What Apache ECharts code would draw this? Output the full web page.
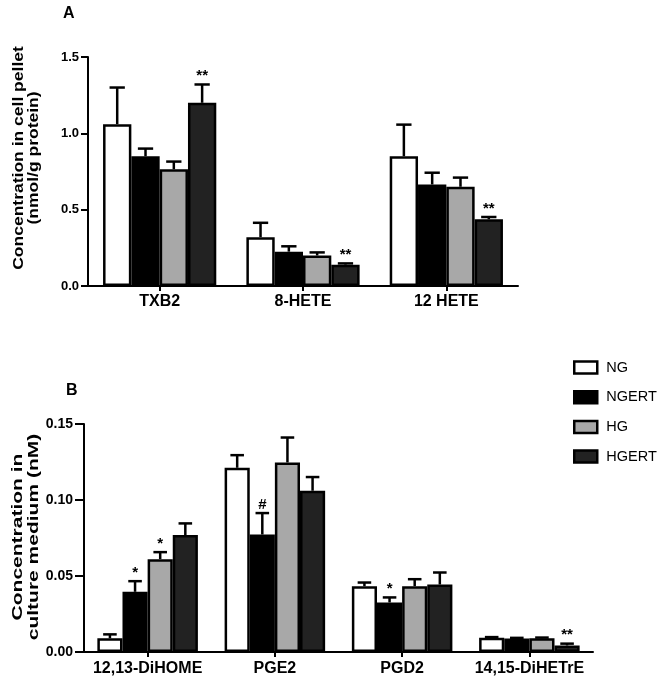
<!DOCTYPE html>
<html>
<head>
<meta charset="utf-8">
<script src="https://cdn.jsdelivr.net/npm/echarts@6/dist/echarts.min.js"></script>
<style>html,body{margin:0;padding:0;background:#fff}#c{width:664px;height:684px}</style>
</head>
<body>
<div id="c"></div>
<script>
// ---- data ----
var groups = ['NG', 'NGERT', 'HG', 'HGERT'];
var colors = ['#ffffff', '#000000', '#a8a8a8', '#222222'];

// Panel A: concentration in cell pellet (nmol/g protein)
var catsA = ['TXB2', '8-HETE', '12 HETE'];
var A_NG = [1.06, 0.32, 0.85];
var A_NGERT = [0.85, 0.225, 0.665];
var A_HG = [0.765, 0.2, 0.65];
var A_HGERT = [1.20, 0.14, 0.437];
var A_NG_sem = [0.24, 0.094, 0.207];
var A_NGERT_sem = [0.05, 0.035, 0.077];
var A_HG_sem = [0.05, 0.02, 0.06];
var A_HGERT_sem = [0.12, 0.008, 0.015];
var A_NG_sig = ['', '', ''];
var A_NGERT_sig = ['', '', ''];
var A_HG_sig = ['', '', ''];
var A_HGERT_sig = ['**', '**', '**'];
var ticksA = [0, 0.5, 1.0, 1.5];

// Panel B: concentration in culture medium (nM)
var catsB = ['12,13-DiHOME', 'PGE2', 'PGD2', '14,15-DiHETrE'];
var B_NG = [0.0090, 0.1212, 0.0433, 0.0093];
var B_NGERT = [0.0396, 0.0773, 0.0326, 0.0088];
var B_HG = [0.0611, 0.1247, 0.0433, 0.0090];
var B_HGERT = [0.0769, 0.1061, 0.0444, 0.0043];
var B_NG_sem = [0.0026, 0.0083, 0.0024, 0.0005];
var B_NGERT_sem = [0.0070, 0.0141, 0.0033, 0.0005];
var B_HG_sem = [0.0046, 0.0164, 0.0046, 0.0005];
var B_HGERT_sem = [0.0077, 0.0090, 0.0079, 0.0012];
var B_NG_sig = ['', '', '', ''];
var B_NGERT_sig = ['*', '#', '*', ''];
var B_HG_sig = ['*', '', '', ''];
var B_HGERT_sig = ['', '', '', '**'];
var ticksB = [0, 0.05, 0.10, 0.15];

// ---- build ----
var FONT = '"Liberation Sans", Arial, sans-serif';
var CAT_GAP = 0.21;
var BW = 2.5;

var panelA = {
  means: [A_NG, A_NGERT, A_HG, A_HGERT],
  sems: [A_NG_sem, A_NGERT_sem, A_HG_sem, A_HGERT_sem],
  sigs: [A_NG_sig, A_NGERT_sig, A_HG_sig, A_HGERT_sig]
};
var panelB = {
  means: [B_NG, B_NGERT, B_HG, B_HGERT],
  sems: [B_NG_sem, B_NGERT_sem, B_HG_sem, B_HGERT_sem],
  sigs: [B_NG_sig, B_NGERT_sig, B_HG_sig, B_HGERT_sig]
};

var series = [];
function addPanel(p, axisIdx) {
  for (var k = 0; k < 4; k++) {
    series.push({
      type: 'bar', name: groups[k], xAxisIndex: axisIdx, yAxisIndex: axisIdx,
      data: p.means[k], barGap: '0%', barCategoryGap: (CAT_GAP * 100) + '%',
      itemStyle: { color: colors[k], borderColor: '#000', borderWidth: BW },
      emphasis: { disabled: true }, z: 2
    });
  }
  for (var k2 = 0; k2 < 4; k2++) {
    (function (k) {
      var data = p.means[k].map(function (m, i) { return [i, m, p.sems[k][i]]; });
      series.push({
        type: 'custom', name: 'err' + axisIdx + '_' + k, xAxisIndex: axisIdx, yAxisIndex: axisIdx,
        data: data, z: 3, silent: true,
        encode: { x: 0, y: 1 },
        renderItem: function (params, api) {
          var i = api.value(0), m = api.value(1), e = api.value(2);
          var band = api.size([1, 0])[0];
          var gw = band * (1 - CAT_GAP);
          var bw = gw / 4;
          var cx = api.coord([i, 0])[0] - gw / 2 + bw * (k + 0.5);
          var y1 = api.coord([i, m])[1];
          var y2 = api.coord([i, m + e])[1];
          var half = bw * 0.27;
          var st = { stroke: '#000', lineWidth: 2.5 };
          var children = [
            { type: 'line', shape: { x1: cx, y1: y1, x2: cx, y2: y2 }, style: st },
            { type: 'line', shape: { x1: cx - half, y1: y2, x2: cx + half, y2: y2 }, style: st }
          ];
          var s = p.sigs[k][params.dataIndex];
          if (s) {
            children.push({
              type: 'text',
              style: { text: s, x: cx, y: y2 - 1, align: 'center', verticalAlign: 'bottom',
                       font: 'bold 15px ' + FONT, fill: '#000' }
            });
          }
          return { type: 'group', children: children };
        }
      });
    })(k2);
  }
}
addPanel(panelA, 0);
addPanel(panelB, 1);

function xAxis(cats, gi, margin) {
  return {
    type: 'category', gridIndex: gi, data: cats,
    axisLine: { lineStyle: { color: '#000', width: 2 } },
    axisTick: { show: true, alignWithLabel: true, length: 5, lineStyle: { color: '#000', width: 2 } },
    axisLabel: { color: '#000', fontFamily: FONT, fontWeight: 'bold', fontSize: 16, margin: margin, interval: 0 }
  };
}
function yAxis(gi, ticks, dec, fs, tl, margin) {
  return {
    type: 'value', gridIndex: gi, min: ticks[0], max: ticks[ticks.length - 1],
    interval: ticks[1] - ticks[0],
    axisLine: { show: true, lineStyle: { color: '#000', width: 2 } },
    axisTick: { show: true, length: tl, lineStyle: { color: '#000', width: 2 } },
    splitLine: { show: false },
    axisLabel: { color: '#000', fontFamily: FONT, fontWeight: 'bold', fontSize: fs, margin: margin,
      formatter: function (v) { return v.toFixed(dec); } }
  };
}

var legendData = groups.map(function (g) {
  return { name: g, itemStyle: { borderColor: '#000', borderWidth: 2.5 } };
});

var option = {
  animation: false,
  backgroundColor: '#fff',
  grid: [
    { left: 88, top: 57, right: 146, bottom: 398, containLabel: false },
    { left: 84, top: 424, right: 71, bottom: 32, containLabel: false }
  ],
  xAxis: [xAxis(catsA, 0, 8), xAxis(catsB, 1, 9)],
  yAxis: [yAxis(0, ticksA, 1, 13, 7, 9), yAxis(1, ticksB, 2, 14, 9, 11)],
  legend: {
    data: legendData, orient: 'vertical', left: 568, top: 355,
    itemWidth: 23, itemHeight: 12, itemGap: 14.7, icon: 'rect',
    textStyle: { fontFamily: FONT, fontSize: 14.5, color: '#000', padding: [0, 0, 0, 4] },
    selectedMode: false
  },
  graphic: [
    { type: 'text', left: 63, top: 6, style: { text: 'A', font: 'bold 16px ' + FONT, fill: '#000' } },
    { type: 'text', left: 66, top: 383, style: { text: 'B', font: 'bold 16px ' + FONT, fill: '#000' } },
    { type: 'text', x: 27, y: 158, rotation: Math.PI / 2, scaleX: 1.25,
      style: { text: 'Concentration in cell pellet\n(nmol/g protein)', font: 'bold 14px ' + FONT,
               fill: '#000', align: 'center', verticalAlign: 'middle', lineHeight: 15 } },
    { type: 'text', x: 26, y: 537, rotation: Math.PI / 2, scaleX: 1.4,
      style: { text: 'Concentration in\nculture medium (nM)', font: 'bold 15px ' + FONT,
               fill: '#000', align: 'center', verticalAlign: 'middle', lineHeight: 16 } }
  ],
  series: series
};

var chart = echarts.init(document.getElementById('c'), null, { renderer: 'canvas' });
chart.setOption(option);
</script>
</body>
</html>
